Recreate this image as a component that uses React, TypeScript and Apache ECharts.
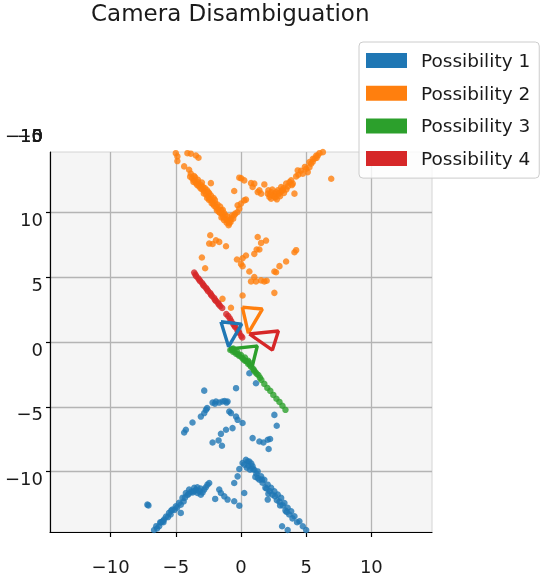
import React, { useEffect, useRef } from 'react';
import * as echarts from 'echarts';

const seriesNames = ['Possibility 1', 'Possibility 2', 'Possibility 3', 'Possibility 4'];
const seriesColors = ['#1f77b4', '#ff7f0e', '#2ca02c', '#d62728'];
const zStackLabels = ['−10', '−5', '0', '5', '10'];

const possibility1Points = [
  [0.64, -2.41], [1.15, -3.18], [-0.38, -3.56], [-2.82, -3.75],
  [-2.18, -4.67], [-1.92, -4.59], [-1.67, -4.67], [-1.42, -4.59], [-1.11, -4.67], [-1.03, -4.59], [-2.0, -4.75], [-1.25, -4.55],
  [-2.69, -5.23], [-2.82, -5.48], [-3.08, -5.75], [-3.72, -6.21], [-4.23, -6.77], [-4.36, -6.98], [-2.6, -5.1],
  [-0.9, -5.36], [-0.77, -5.48], [-0.38, -5.75], [-0.26, -6.0], [0.12, -6.25],
  [-1.15, -6.77], [-1.54, -7.08], [-0.65, -6.64],
  [-2.18, -7.75], [-1.72, -7.59], [-1.46, -8.0],
  [0.89, -7.41], [1.41, -7.67], [1.72, -7.75], [2.05, -7.54], [2.23, -7.48], [2.12, -8.25],
  [2.56, -5.62], [2.74, -6.46],
  [0.38, -9.08], [0.51, -9.21], [0.64, -9.21], [0.25, -9.46], [0.56, -9.54], [0.79, -9.38], [0.89, -9.59], [0.45, -9.7], [0.7, -9.85],
  [1.02, -9.85], [1.28, -9.98], [1.18, -10.15], [1.54, -10.36], [1.41, -10.62], [1.79, -10.62], [1.65, -10.85], [2.05, -11.0],
  [1.87, -11.23], [2.31, -11.25], [2.2, -11.5], [2.56, -11.52], [2.41, -11.77], [2.82, -11.77], [3.08, -12.02], [2.95, -12.31],
  [3.33, -12.41], [3.2, -12.6], [3.58, -12.79], [3.41, -13.0], [3.85, -13.05], [4.1, -13.44], [4.48, -13.82], [4.74, -14.21], [5.0, -14.5],
  [0.9, -9.8], [1.1, -10.4], [1.3, -10.5], [1.6, -10.6], [1.95, -11.3], [2.1, -11.7], [2.6, -11.9], [2.75, -12.2], [3.0, -12.6],
  [3.5, -13.1], [3.7, -13.3], [3.95, -13.6], [4.3, -13.9],
  [0.12, -9.33], [-0.13, -9.79], [-0.26, -10.36], [-0.52, -10.87], [0.25, -11.64], [2.05, -12.15], [3.15, -14.21], [3.58, -14.5],
  [-7.18, -12.54], [-7.1, -12.6], [-6.67, -14.5], [-6.44, -14.38], [-6.28, -14.21], [-6.13, -13.92], [-5.9, -13.69], [-5.75, -13.46],
  [-5.52, -13.18], [-5.26, -12.92], [-5.0, -12.67], [-4.9, -12.77], [-4.62, -12.54], [-4.49, -12.02], [-4.23, -11.64], [-3.98, -11.38],
  [-3.82, -11.54], [-3.59, -11.25], [-3.34, -11.64], [-3.08, -11.77], [-2.82, -11.38], [-2.57, -11.0], [-2.44, -10.87], [-4.62, -13.18],
  [-3.7, -11.6], [-3.45, -11.4], [-3.2, -11.5], [-2.95, -11.6], [-4.1, -11.8], [-4.4, -12.3], [-5.4, -13.3], [-6.0, -13.8],
  [-6.5, -14.2], [-6.2, -13.9], [-5.95, -13.9], [-5.6, -13.5], [-5.35, -13.0], [-5.1, -12.95], [-4.75, -12.4], [-4.3, -12.0],
  [-4.0, -11.7], [-3.6, -11.5], [-3.35, -11.2], [-3.1, -11.3], [-2.7, -11.2],
  [-1.67, -11.38], [-1.54, -11.64], [-1.98, -12.1], [-1.28, -11.9], [-1.03, -12.15], [-0.52, -12.28], [-0.13, -12.62],
];

const possibility2Points = [
  [-5.39, 14.82], [-5.0, 14.56], [-4.88, 14.31], [-4.88, 13.95], [-4.11, 14.56], [-3.85, 14.98], [-3.85, 14.52], [-3.46, 14.38],
  [-3.26, 14.21], [-4.36, 13.54], [-3.98, 13.28], [-3.85, 12.98],
  [-3.75, 12.62], [-3.59, 12.46], [-3.52, 12.69], [-3.44, 12.23], [-3.28, 12.31], [-3.21, 12.0], [-3.05, 12.08], [-2.98, 11.77],
  [-2.82, 11.62], [-2.75, 11.85], [-2.67, 11.38], [-2.52, 11.23], [-2.44, 11.46], [-2.36, 11.0], [-2.21, 10.85], [-2.13, 10.62],
  [-1.98, 10.69], [-1.9, 10.38], [-1.75, 10.23], [-1.67, 10.0], [-1.52, 10.15], [-1.44, 9.85], [-1.36, 9.62], [-1.21, 9.77],
  [-1.13, 9.46], [-0.98, 9.31], [-0.9, 9.15], [-0.75, 9.54],
  [-3.6, 12.8], [-3.3, 12.5], [-3.0, 12.3], [-2.9, 11.95], [-2.6, 11.7], [-2.5, 11.55], [-2.3, 11.3], [-2.1, 11.1], [-2.0, 10.95],
  [-1.8, 10.6], [-1.6, 10.45], [-1.4, 10.2], [-1.3, 9.95], [-1.05, 9.7], [-0.85, 9.4], [-0.7, 9.75],
  [-3.9, 12.75], [-3.65, 12.35], [-3.35, 12.1], [-3.1, 11.85], [-2.85, 11.45], [-2.6, 11.1], [-2.45, 10.95], [-2.25, 10.7],
  [-2.05, 10.5], [-1.85, 10.15], [-1.6, 9.95], [-1.5, 9.6], [-1.3, 9.4], [-1.1, 9.2], [-0.95, 9.0], [-0.8, 9.25], [-0.6, 9.5], [-0.45, 9.9],
  [-2.31, 12.25], [-0.52, 11.64], [-0.13, 12.67], [0.02, 12.62], [0.25, 12.46],
  [-0.52, 9.77], [-0.28, 10.0], [-0.13, 10.28], [-0.26, 10.54], [0.0, 10.67], [0.25, 10.92], [0.38, 10.98],
  [0.77, 12.25], [0.89, 11.95], [1.02, 12.21], [1.28, 11.56], [1.41, 11.69], [1.54, 11.44], [1.79, 12.15],
  [2.05, 11.44], [2.18, 11.18], [2.31, 11.05], [2.33, 11.54], [2.56, 11.44], [2.64, 11.15], [2.82, 11.69], [2.87, 11.38],
  [3.08, 11.95], [3.1, 11.62], [3.25, 11.85], [3.46, 12.21], [3.48, 11.77], [3.72, 12.33], [3.85, 12.46], [3.97, 12.21],
  [2.45, 11.3], [2.7, 11.55], [2.95, 11.5], [3.2, 11.7], [2.2, 11.35],
  [2.1, 11.7], [2.4, 11.75], [2.6, 11.2], [2.75, 11.0], [3.0, 11.25], [3.3, 11.5], [3.6, 12.0], [3.9, 12.1], [4.4, 12.9],
  [4.6, 13.2], [4.9, 13.5], [5.5, 13.9], [5.8, 14.2],
  [4.1, 11.44], [4.23, 12.77], [4.35, 13.23], [4.74, 12.98], [5.0, 13.36], [5.12, 13.1], [5.25, 13.48], [5.25, 13.87],
  [5.38, 13.75], [5.51, 14.13], [5.64, 14.13], [5.77, 14.38], [5.89, 14.38], [6.02, 14.56], [6.28, 14.64], [6.28, 14.72], [6.92, 12.59],
  [-2.36, 8.23], [-2.44, 7.59], [-2.18, 7.56], [-1.92, 7.85], [-1.67, 7.72], [-1.15, 7.38], [-3.0, 6.52], [-2.75, 5.69],
  [1.28, 8.1], [1.92, 7.82], [1.54, 7.64], [1.41, 7.13], [1.02, 6.79], [0.38, 6.67], [0.12, 6.46], [-0.31, 6.36],
  [0.0, 6.02], [0.12, 5.85], [0.64, 5.44], [1.02, 5.0], [0.77, 4.67], [1.15, 4.67], [1.54, 4.75], [1.79, 4.67], [1.97, 4.72],
  [2.56, 5.44], [2.69, 5.38], [2.95, 5.85], [3.46, 6.21], [4.1, 6.92], [4.23, 7.08], [2.56, 3.79], [0.12, 3.59], [-1.42, 3.33],
  [-0.77, 2.64], [1.2, 7.13],
];

const possibility3Points = [
  [-0.82, -0.62], [-0.7, -0.55], [-0.59, -0.77], [-0.5, -0.7], [-0.36, -0.92], [-0.2, -0.95], [-0.13, -1.08], [0.1, -1.23],
  [0.2, -1.35], [0.33, -1.46], [0.45, -1.5], [0.56, -1.69], [0.7, -1.8], [0.79, -1.92], [0.95, -2.08], [1.1, -2.31],
  [1.33, -2.54], [1.56, -2.92], [1.79, -3.23], [2.02, -3.54], [2.25, -3.77], [2.48, -4.08], [2.72, -4.38], [2.95, -4.62],
  [3.18, -4.92], [3.41, -5.23],
  [-0.6, -0.5], [-0.3, -0.75], [0.0, -1.0], [0.3, -1.2], [0.55, -1.45], [0.65, -1.6], [1.0, -2.2], [1.2, -2.45], [1.45, -2.75],
];

const possibility4Points = [
  [-3.59, 5.35], [-3.44, 5.08], [-3.28, 4.92], [-3.13, 4.69], [-2.98, 4.54], [-2.82, 4.31], [-2.67, 4.15], [-2.52, 3.92],
  [-2.36, 3.77], [-2.21, 3.54], [-2.05, 3.38], [-1.9, 3.15], [-1.75, 3.0], [-1.59, 2.77], [-1.44, 2.62], [-1.13, 2.15],
  [-0.98, 2.0], [-0.75, 1.62], [-0.59, 1.38], [-0.44, 1.15], [-0.28, 0.92], [-0.13, 0.69], [0.02, 0.46],
  [-3.5, 5.2], [-3.2, 4.8], [-2.9, 4.4], [-2.6, 4.05], [-2.3, 3.65], [-2.0, 3.25], [-1.7, 2.9], [-0.85, 1.8], [-0.5, 1.25],
  [-0.2, 0.8], [0.1, 0.35],
];

const possibility1Frustum = [[-1.54, 1.56], [0.05, 1.38], [-0.95, -0.36], [-1.54, 1.56]];
const possibility2Frustum = [[0.1, 2.69], [1.64, 2.54], [0.56, 0.69], [0.1, 2.69]];
const possibility3Frustum = [[-0.9, -0.54], [1.25, -0.31], [0.87, -1.85], [-0.9, -0.54]];
const possibility4Frustum = [[0.64, 0.62], [2.87, 0.85], [2.41, -0.62], [0.64, 0.62]];

const pointSets = [possibility1Points, possibility2Points, possibility3Points, possibility4Points];
const frustums = [possibility1Frustum, possibility2Frustum, possibility3Frustum, possibility4Frustum];

const FONT = 'DejaVu Sans';
const fmt = (v: number) => (v < 0 ? '\u2212' + Math.abs(v) : String(v));

export default function App() {
  const ref = useRef<HTMLDivElement>(null);
  useEffect(() => {
    if (!ref.current) return;
    const chart = echarts.init(ref.current, undefined, { renderer: 'svg' });
    const axisCommon = {
      type: 'value',
      min: -14.65,
      max: 14.65,
      axisLine: { show: true, onZero: false, lineStyle: { color: '#000', width: 1.2 } },
      axisTick: { show: true, length: 5, lineStyle: { color: '#000', width: 1.2 } },
      splitLine: { show: true, showMinLine: false, showMaxLine: false, lineStyle: { color: '#b4b4b4', width: 1.3 } },
    };
    chart.setOption({
      animation: false,
      title: {
        text: 'Camera Disambiguation',
        left: 91,
        top: 1,
        padding: 0,
        textStyle: { fontFamily: FONT, fontSize: 23, fontWeight: 'normal', color: '#1a1a1a' },
      },
      legend: {
        data: seriesNames.map((n) => ({ name: n, icon: 'rect' })),
        orient: 'vertical',
        left: 359,
        top: 42,
        itemWidth: 41,
        itemHeight: 15,
        itemGap: 13.7,
        padding: [9, 9, 10, 7],
        backgroundColor: 'rgba(255,255,255,0.8)',
        borderColor: '#cccccc',
        borderWidth: 1,
        borderRadius: 4,
        itemStyle: { opacity: 1 },
        textStyle: { fontFamily: FONT, fontSize: 18.5, color: '#1a1a1a', lineHeight: 15, padding: [0, 0, 0, 9] },
      },
      grid: {
        left: 50, top: 152, width: 382, height: 380,
        show: true, backgroundColor: '#f5f5f5', borderColor: '#d4d4d4', borderWidth: 1,
      },
      xAxis: {
        ...axisCommon,
        axisLabel: {
          showMinLabel: false, showMaxLabel: false, formatter: fmt,
          fontFamily: FONT, fontSize: 18, color: '#1a1a1a', margin: 25,
        },
      },
      yAxis: {
        ...axisCommon,
        axisTick: { show: true, length: 4, lineStyle: { color: '#000', width: 1.2 } },
        axisLabel: {
          showMinLabel: false, showMaxLabel: false, formatter: fmt,
          fontFamily: FONT, fontSize: 18, color: '#1a1a1a', margin: 7,
          verticalAlign: 'top', lineHeight: 14,
        },
      },
      graphic: zStackLabels.map((t) => ({
        type: 'text',
        x: 43,
        y: 135,
        silent: true,
        style: { text: t, textAlign: 'right', verticalAlign: 'middle', fontFamily: FONT, fontSize: 18, fill: '#1a1a1a' },
      })),
      series: [
        ...seriesNames.map((name, i) => ({
          type: 'scatter',
          name,
          data: pointSets[i],
          symbolSize: 6.5,
          itemStyle: { color: seriesColors[i], opacity: 0.8 },
          z: 2,
          silent: true,
        })),
        ...seriesNames.map((name, i) => ({
          type: 'line',
          name,
          data: frustums[i],
          showSymbol: false,
          symbol: 'none',
          lineStyle: { color: seriesColors[i], width: 3.4 },
          itemStyle: { color: seriesColors[i] },
          z: 3,
          silent: true,
        })),
      ],
    });
    return () => chart.dispose();
  }, []);
  return <div ref={ref} style={{ position: 'fixed', left: 0, top: 0, width: 542, height: 580 }} />;
}
